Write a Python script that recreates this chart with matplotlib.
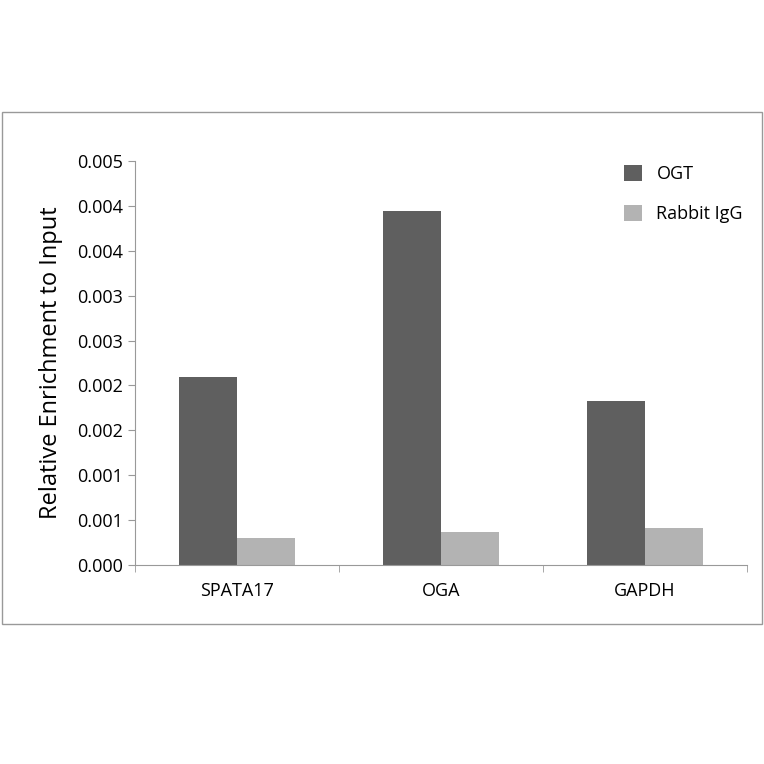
import matplotlib
matplotlib.use("Agg")
import matplotlib.pyplot as plt
from matplotlib.patches import Rectangle
import numpy as np

plt.rcParams['font.family'] = ['Open Sans', 'DejaVu Sans']

categories = ["SPATA17", "OGA", "GAPDH"]
ogt = [0.00209, 0.00394, 0.00183]
igg = [0.00030, 0.00037, 0.00041]
yticks = [0, 0.0005, 0.001, 0.0015, 0.002, 0.0025, 0.003, 0.0035, 0.004, 0.0045]
ylabels = ["0.000", "0.001", "0.001", "0.002", "0.002", "0.003", "0.003", "0.004", "0.004", "0.005"]

fig = plt.figure(figsize=(7.64, 7.64), dpi=100)
fig.patches.append(Rectangle((2/764, 1-624/764), 760/764, 512/764, transform=fig.transFigure,
                             fill=False, edgecolor="#999999", lw=1))
ax = fig.add_axes([135/764, 1-565/764, 612/764, 404/764])
x = np.arange(len(categories))
w = 0.284
ax.bar(x - w/2, ogt, w, color="#5f5f5f", label="OGT")
ax.bar(x + w/2, igg, w, color="#b3b3b3", label="Rabbit IgG")
ax.set_xlim(-0.5, 2.5)
ax.set_ylim(0, 0.0045)
ax.set_yticks(yticks)
ax.set_yticklabels(ylabels, fontsize=13)
ax.set_xticks(x)
ax.set_xticklabels(categories, fontsize=13)
ax.set_xticks([-0.5, 0.5, 1.5, 2.5], minor=True)
ax.tick_params(axis="x", which="major", length=0, pad=12)
ax.tick_params(axis="x", which="minor", length=5, color="#999999")
ax.tick_params(axis="y", length=5, color="#999999")
for s in ["top", "right"]:
    ax.spines[s].set_visible(False)
for s in ["left", "bottom"]:
    ax.spines[s].set_color("#999999")
ax.set_ylabel("Relative Enrichment to Input", fontsize=17, labelpad=10)
ax.legend(loc="upper right", bbox_to_anchor=(1.02, 1.03), frameon=False, fontsize=13,
          handlelength=1.0, handleheight=1.0, labelspacing=1.2)
fig.savefig("out.png", dpi=100)
